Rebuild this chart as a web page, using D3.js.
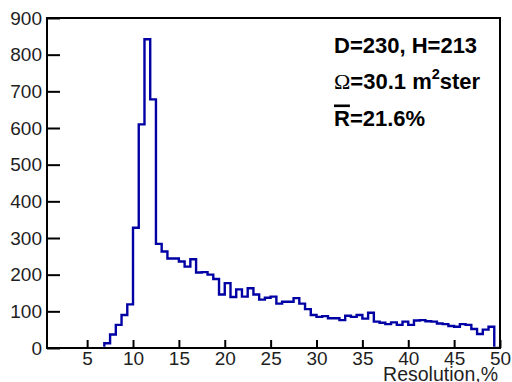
<!DOCTYPE html>
<html>
<head>
<meta charset="utf-8">
<script src="https://cdn.jsdelivr.net/npm/d3@7"></script>
<style>
  html, body { margin: 0; padding: 0; background: #fff; }
  svg { display: block; }
</style>
</head>
<body>
<svg id="chart" width="512" height="382"></svg>
<script>
// ---------------- data ----------------
const xDomain = [0.625, 50];
const yDomain = [0, 900];
const binWidth = 0.625;
const firstBinLow = 6.875;
// counts per bin starting at firstBinLow (bin width 0.625)
const counts = [
  13, 37, 63, 90, 119, 328, 610, 842, 678, 284,
  263, 244, 244, 236, 222, 242, 206, 207, 200, 188,
  146, 177, 139, 160, 140, 163, 146, 132, 137, 140,
  121, 126, 126, 136, 121, 106, 90, 85, 87, 81,
  81, 76, 88, 85, 90, 80, 96, 72, 69, 65,
  70, 63, 72, 63, 75, 76, 73, 72, 67, 65,
  60, 58, 65, 63, 52, 38, 50, 58, 0
];
const xMajorTicks = [5, 10, 15, 20, 25, 30, 35, 40, 45, 50];
const xMinorTicks = d3.range(1, 51, 1);
const yMajorTicks = [0, 100, 200, 300, 400, 500, 600, 700, 800, 900];
const yMinorTicks = d3.range(0, 901, 10);
const xTitle = "Resolution,%";
const legendLine1 = "D=230, H=213";
const legendOmega = "Ω";
const legendLine2 = "=30.1 m";
const legendSup = "2";
const legendLine2b = "ster";
const legendR = "R";
const legendLine3 = "=21.6%";

// ---------------- layout ----------------
const svg = d3.select("#chart");
const M = { left: 47, top: 18, right: 500, bottom: 348 };
const x = d3.scaleLinear().domain(xDomain).range([M.left, M.right]);
const y = d3.scaleLinear().domain(yDomain).range([M.bottom, M.top]);
const font = "'Liberation Sans', Arial, Helvetica, sans-serif";
const labelColor = "#1e1e1e";

svg.append("rect").attr("width", 512).attr("height", 382).attr("fill", "#fff");

svg.append("clipPath").attr("id", "clip")
  .append("rect")
  .attr("x", M.left).attr("y", M.top)
  .attr("width", M.right - M.left).attr("height", M.bottom - M.top - 1.2);

// histogram outline (step)
const pts = [[firstBinLow, 0]];
counts.forEach((c, i) => {
  const lo = firstBinLow + i * binWidth;
  pts.push([lo, c]);
  pts.push([lo + binWidth, c]);
});
pts.push([firstBinLow + counts.length * binWidth, 0]);

const line = d3.line().x(d => x(d[0])).y(d => y(d[1]));
svg.append("path")
  .attr("clip-path", "url(#clip)")
  .attr("d", line(pts))
  .attr("fill", "none")
  .attr("stroke", "#0000a4")
  .attr("stroke-width", 2.4)
  .attr("stroke-linejoin", "miter");

// axes
const gx = svg.append("g").attr("transform", `translate(0,${M.bottom})`);
gx.call(d3.axisBottom(x).tickValues(xMinorTicks).tickSize(-4).tickFormat(""));
gx.call(d3.axisBottom(x).tickValues(xMajorTicks).tickSize(-8).tickPadding(3).tickFormat(d3.format("d")));
gx.selectAll(".domain").remove();
gx.selectAll("line").attr("stroke", "#000").attr("stroke-width", 2);
gx.selectAll("text").attr("font-family", font).attr("font-size", 19).attr("fill", labelColor);

const gy = svg.append("g").attr("transform", `translate(${M.left},0)`);
gy.call(d3.axisLeft(y).tickValues(yMinorTicks).tickSize(-6.5).tickFormat(""));
gy.call(d3.axisLeft(y).tickValues(yMajorTicks).tickSize(-13).tickPadding(5).tickFormat(d3.format("d")));
gy.selectAll(".domain").remove();
gy.selectAll("line").attr("stroke", "#000").attr("stroke-width", 2);
gy.selectAll("text").attr("font-family", font).attr("font-size", 19).attr("fill", labelColor);

// frame
svg.append("rect")
  .attr("x", M.left).attr("y", M.top)
  .attr("width", M.right - M.left).attr("height", M.bottom - M.top)
  .attr("fill", "none").attr("stroke", "#000").attr("stroke-width", 2);

// x title
svg.append("text")
  .attr("x", M.right - 2).attr("y", 381)
  .attr("text-anchor", "end")
  .attr("font-family", font).attr("font-size", 19.5).attr("fill", labelColor)
  .text(xTitle);

// legend text
const lx = 334;
const lfs = 22;
svg.append("text")
  .attr("x", lx).attr("y", 53)
  .attr("font-family", font).attr("font-size", lfs).attr("font-weight", "bold")
  .attr("fill", "#000")
  .text(legendLine1);

const t2 = svg.append("text")
  .attr("x", lx).attr("y", 88.5)
  .attr("font-family", font).attr("font-size", lfs).attr("font-weight", "bold")
  .attr("fill", "#000");
t2.append("tspan").attr("font-family", "'Liberation Serif', 'Times New Roman', serif")
  .attr("font-weight", "normal").attr("font-size", lfs).text(legendOmega);
t2.append("tspan").text(legendLine2);
t2.append("tspan").attr("font-size", 14.5).attr("dy", -9.5).text(legendSup);
t2.append("tspan").attr("dy", 9.5).text(legendLine2b);

const t3 = svg.append("text")
  .attr("x", lx).attr("y", 126)
  .attr("font-family", font).attr("font-size", lfs).attr("font-weight", "bold")
  .attr("fill", "#000");
t3.append("tspan").text(legendR);
t3.append("tspan").text(legendLine3);
const rLen = t3.node().getSubStringLength(0, 1);
svg.append("rect")
  .attr("x", lx).attr("y", 104.5)
  .attr("width", rLen).attr("height", 2.6)
  .attr("fill", "#000");
</script>
</body>
</html>
